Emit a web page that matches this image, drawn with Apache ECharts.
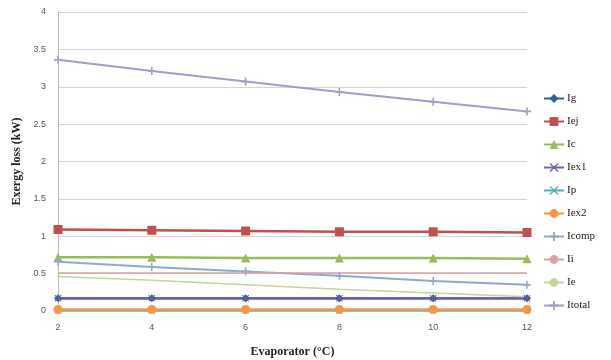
<!DOCTYPE html>
<html>
<head>
<meta charset="utf-8">
<script src="https://cdn.jsdelivr.net/npm/echarts@6/dist/echarts.min.js"></script>
<style>
  html, body { margin: 0; padding: 0; background: #fff; }
  #chart { width: 611px; height: 360px; }
</style>
</head>
<body>
<div id="chart"></div>
<script>
// evaporator temperature (°C)
const temps = [2, 4, 6, 8, 10, 12]

// exergy loss per component (kW)
const Ig = [0.17, 0.17, 0.17, 0.17, 0.17, 0.17]
const Iej = [1.09, 1.08, 1.07, 1.06, 1.06, 1.05]
const Ic = [0.72, 0.72, 0.71, 0.71, 0.71, 0.70]
const Iex1 = [0.17, 0.17, 0.17, 0.17, 0.17, 0.17]
const Ip = [0.01, 0.01, 0.01, 0.01, 0.01, 0.01]
const Iex2 = [0.02, 0.02, 0.02, 0.02, 0.02, 0.02]
const Icomp = [0.66, 0.59, 0.53, 0.47, 0.40, 0.35]
const Ii = [0.51, 0.51, 0.51, 0.51, 0.51, 0.51]
const Ie = [0.46, 0.41, 0.35, 0.29, 0.24, 0.19]
const Itotal = [3.36, 3.21, 3.07, 2.93, 2.80, 2.67]

const plus = 'path://M4,0H6V4H10V6H6V10H4V6H0V4H4Z'
const cross = 'path://M1,0L5,4L9,0L10,1L6,5L10,9L9,10L5,6L1,10L0,9L4,5L0,1Z'

function pairs(ys) {
  return temps.map((t, i) => [t, ys[i]])
}

function line(name, ys, color, symbol, size, width) {
  return {
    name: name,
    type: 'line',
    data: pairs(ys),
    symbol: symbol,
    symbolSize: size,
    showSymbol: symbol !== 'none',
    lineStyle: { color: color, width: width },
    itemStyle: { color: color },
    emphasis: { disabled: true }
  }
}

const myChart = echarts.init(document.getElementById('chart'))
const option = {
  animation: false,
  textStyle: { fontFamily: 'Liberation Serif' },
  grid: { left: 58, right: 84, top: 12, bottom: 49, outerBoundsMode: 'none' },
  legend: {
    orient: 'vertical',
    left: 538,
    top: 88,
    itemGap: 12,
    itemWidth: 20,
    itemHeight: 11,
    textStyle: { fontFamily: 'Liberation Serif', fontSize: 11, color: '#222', padding: [0, 0, 0, -2] },
    data: ['Ig', 'Iej', 'Ic', 'Iex1', 'Ip', 'Iex2', 'Icomp', 'Ii', 'Ie', 'Itotal']
  },
  xAxis: {
    type: 'value',
    min: 2,
    max: 12,
    interval: 2,
    name: 'Evaporator (\u00B0C)',
    nameLocation: 'middle',
    nameGap: 35,
    nameTextStyle: { fontFamily: 'Liberation Serif', fontWeight: 'bold', fontSize: 12, color: '#222' },
    axisLine: { show: false },
    axisTick: { show: false },
    splitLine: { show: false },
    axisLabel: { color: '#555', fontSize: 9, margin: 12, fontFamily: 'Liberation Sans' }
  },
  yAxis: {
    type: 'value',
    min: 0,
    max: 4,
    interval: 0.5,
    name: 'Exergy loss (kW)',
    nameLocation: 'middle',
    nameGap: 34,
    nameTextStyle: { fontFamily: 'Liberation Serif', fontWeight: 'bold', fontSize: 12, color: '#222' },
    axisLine: { show: true, lineStyle: { color: '#bbb', width: 1 } },
    axisTick: { show: false },
    splitLine: { lineStyle: { color: '#d4d4d4', width: 1 } },
    axisLabel: { color: '#555', fontSize: 9, margin: 12, fontFamily: 'Liberation Sans' }
  },
  series: [
    line('Ig', Ig, '#2F5F9E', 'diamond', 8, 2.5),
    line('Iej', Iej, '#C0504D', 'rect', 9, 2.5),
    line('Ic', Ic, '#9BBB59', 'triangle', 9, 2.5),
    line('Iex1', Iex1, '#7060A8', cross, 7, 2.5),
    line('Ip', Ip, '#4BACC6', cross, 7, 2.5),
    line('Iex2', Iex2, '#F79646', 'circle', 9, 2.5),
    line('Icomp', Icomp, '#8EA9D8', plus, 8, 2),
    line('Ii', Ii, '#D6A4A2', 'none', 0, 1.5),
    line('Ie', Ie, '#C3D69B', 'none', 0, 1.5),
    line('Itotal', Itotal, '#A69BCB', plus, 8, 2)
  ]
}
myChart.setOption(option)
window.addEventListener('resize', function() {
  myChart.resize()
})
</script>
</body>
</html>
